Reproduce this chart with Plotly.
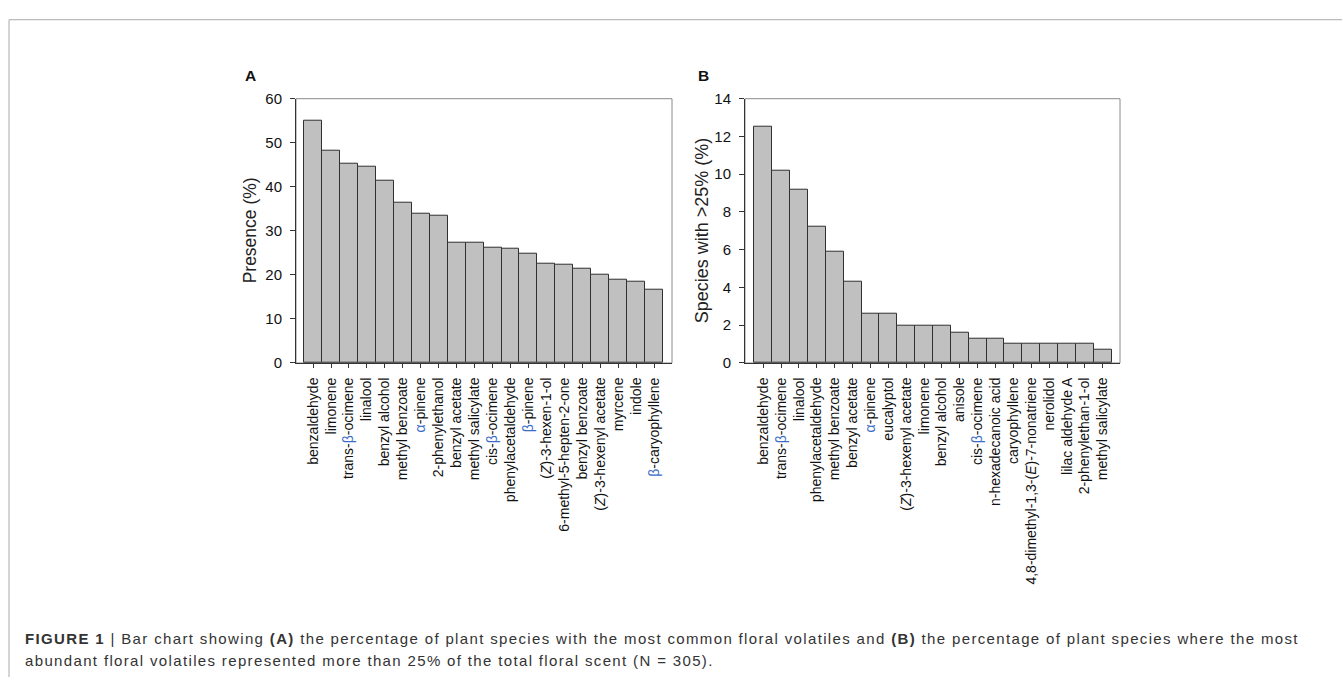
import plotly.graph_objects as go

B_ = '<span style="color:#3a6cc8">β</span>'
A_ = '<span style="color:#3a6cc8">α</span>'

# Panel A: presence (%)
cats_a = ["benzaldehyde", "limonene", "trans-beta-ocimene", "linalool", "benzyl alcohol",
          "methyl benzoate", "alpha-pinene", "2-phenylethanol", "benzyl acetate",
          "methyl salicylate", "cis-beta-ocimene", "phenylacetaldehyde", "beta-pinene",
          "(Z)-3-hexen-1-ol", "6-methyl-5-hepten-2-one", "benzyl benzoate",
          "(Z)-3-hexenyl acetate", "myrcene", "indole", "beta-caryophyllene"]
ticks_a = ["benzaldehyde", "limonene", "trans-" + B_ + "-ocimene", "linalool", "benzyl alcohol",
           "methyl benzoate", A_ + "-pinene", "2-phenylethanol", "benzyl acetate",
           "methyl salicylate", "cis-" + B_ + "-ocimene", "phenylacetaldehyde", B_ + "-pinene",
           "(<i>Z</i>)-3-hexen-1-ol", "6-methyl-5-hepten-2-one", "benzyl benzoate",
           "(<i>Z</i>)-3-hexenyl acetate", "myrcene", "indole", B_ + "-caryophyllene"]
vals_a = [55.1, 48.2, 45.2, 44.6, 41.3, 36.4, 33.8, 33.4, 27.2, 27.2,
          26.2, 25.9, 24.9, 22.6, 22.3, 21.3, 20.0, 19.0, 18.4, 16.7]

# Panel B: species with >25% (%)
cats_b = ["benzaldehyde", "trans-beta-ocimene", "linalool", "phenylacetaldehyde",
          "methyl benzoate", "benzyl acetate", "alpha-pinene", "eucalyptol",
          "(Z)-3-hexenyl acetate", "limonene", "benzyl alcohol", "anisole",
          "cis-beta-ocimene", "n-hexadecanoic acid", "caryophyllene",
          "4,8-dimethyl-1,3-(E)-7-nonatriene", "nerolidol", "lilac aldehyde A",
          "2-phenylethan-1-ol", "methyl salicylate"]
ticks_b = ["benzaldehyde", "trans-" + B_ + "-ocimene", "linalool", "phenylacetaldehyde",
           "methyl benzoate", "benzyl acetate", A_ + "-pinene", "eucalyptol",
           "(<i>Z</i>)-3-hexenyl acetate", "limonene", "benzyl alcohol", "anisole",
           "cis-" + B_ + "-ocimene", "n-hexadecanoic acid", "caryophyllene",
           "4,8-dimethyl-1,3-(<i>E</i>)-7-nonatriene", "nerolidol", "lilac aldehyde A",
           "2-phenylethan-1-ol", "methyl salicylate"]
vals_b = [12.5, 10.2, 9.2, 7.2, 5.9, 4.3, 2.6, 2.6, 2.0, 2.0,
          2.0, 1.6, 1.3, 1.3, 1.0, 1.0, 1.0, 1.0, 1.0, 0.7]

FONT = "Liberation Sans, Arial, sans-serif"
W, H = 1342, 685

fig = go.Figure()
bar_style = dict(marker=dict(color="#c0c0c0", line=dict(color="#303030", width=1)),
                 showlegend=False, hoverinfo="x+y")
fig.add_trace(go.Bar(x=cats_a, y=vals_a, xaxis="x", yaxis="y", **bar_style))
fig.add_trace(go.Bar(x=cats_b, y=vals_b, xaxis="x2", yaxis="y2", **bar_style))

ydom = [(H - 363) / H, (H - 92) / H]
xax_common = dict(type="category", ticks="outside", ticklen=4, tickcolor="#333",
                  tickangle=-90, showline=True, linecolor="#333", linewidth=1,
                  showgrid=False, zeroline=False, ticklabelstandoff=4,
                  tickfont=dict(family=FONT, size=14, color="#111"))
yax_common = dict(ticks="outside", ticklen=5, tickcolor="#333", showline=True,
                  linecolor="#333", linewidth=1, showgrid=False, zeroline=False,
                  ticklabelstandoff=5, tickfont=dict(family=FONT, size=15, color="#111"))

fig.update_layout(
    width=W, height=H, margin=dict(l=0, r=0, t=0, b=0),
    paper_bgcolor="white", plot_bgcolor="white", bargap=0,
    xaxis=dict(domain=[296 / W, 672 / W], anchor="y", range=[-0.95, 20.0],
               tickvals=cats_a, ticktext=ticks_a, **xax_common),
    yaxis=dict(domain=ydom, anchor="x", range=[0, 60], dtick=10, **yax_common),
    xaxis2=dict(domain=[745 / W, 1120 / W], anchor="y2", range=[-1.02, 19.965],
                tickvals=cats_b, ticktext=ticks_b, **xax_common),
    yaxis2=dict(domain=ydom, anchor="x2", range=[0, 14], dtick=2, **yax_common),
)

# light frame (top/right of plot boxes)
for xr, yr in (("x domain", "y domain"), ("x2 domain", "y2 domain")):
    fig.add_shape(type="rect", xref=xr, yref=yr, x0=0, x1=1, y0=0, y1=1,
                  line=dict(color="#8a8a8a", width=1), layer="below")

# page frame
fig.add_shape(type="line", xref="paper", yref="paper", x0=9 / W, x1=1, y0=(H - 11) / H, y1=(H - 11) / H,
              line=dict(color="#aaaaaa", width=1))
fig.add_shape(type="line", xref="paper", yref="paper", x0=9 / W, x1=9 / W, y0=0, y1=(H - 11) / H,
              line=dict(color="#aaaaaa", width=1))

def note(text, xpx, ypx, size, color="#222", angle=0, xanchor="center"):
    return dict(text=text, x=xpx / W, y=(H - ypx) / H, xref="paper", yref="paper",
                xanchor=xanchor, yanchor="middle", textangle=angle, showarrow=False,
                font=dict(family=FONT, size=size, color=color))

ann = [
    note("Presence (%)", 250, 227, 17.5, angle=-90),
    note("Species with >25% (%)", 702, 227, 18, angle=-90),
    note("<b>A</b>", 250, 68, 15.5, color="#111"),
    note("<b>B</b>", 703.5, 68, 15.5, color="#111"),
]
LS = '<span style="letter-spacing:1.35px">'
cap1 = (LS + "<b>FIGURE 1</b> | Bar chart showing <b>(A)</b> the percentage of plant species with the most "
        "common floral volatiles and <b>(B)</b> the percentage of plant species where the most</span>")
cap2 = LS + "abundant floral volatiles represented more than 25% of the total floral scent (N = 305).</span>"
ann.append(note(cap1, 23, 646, 15, color="#333", xanchor="left"))
ann.append(note(cap2, 23, 668, 15, color="#333", xanchor="left"))
fig.update_layout(annotations=ann)

fig.write_html("out.html")
